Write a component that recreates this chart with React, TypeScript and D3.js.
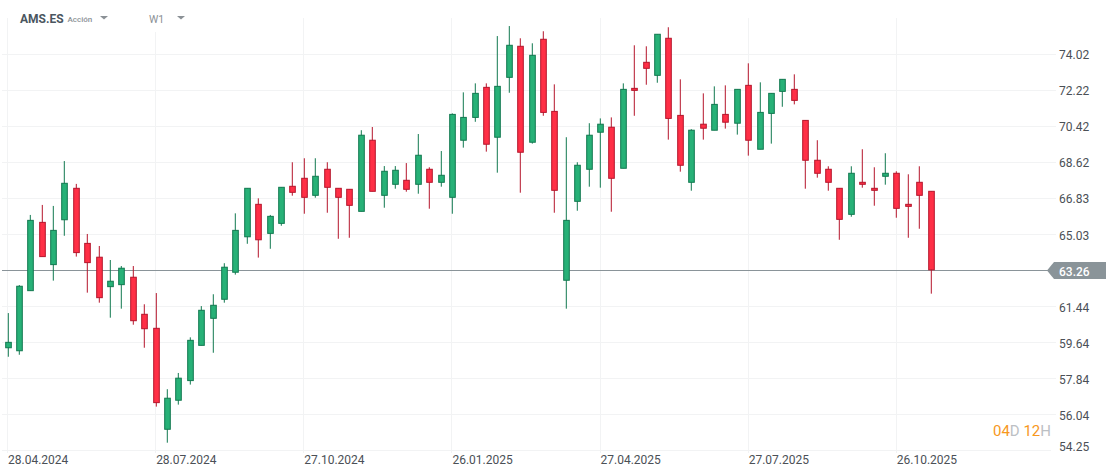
import React, { useEffect, useRef } from "react";
import * as d3 from "d3";

// weekly candles, first one is the week of 28.04.2024
const opens = [
  59.37, 59.22, 62.22, 65.63, 63.52, 65.76, 67.33, 64.58, 63.89, 62.42,
  62.52, 62.89, 61.04, 60.34, 55.3, 56.75, 57.73, 59.49, 60.84, 61.79,
  63.14, 64.91, 66.53, 65.08, 65.58, 67.43, 67.83, 66.98, 68.28, 67.33,
  67.28, 66.18, 69.73, 66.98, 67.53, 67.73, 67.53, 68.28, 67.63, 66.88,
  69.73, 70.87, 72.37, 69.88, 72.87, 74.42, 69.63, 74.77, 71.17, 62.74,
  66.68, 68.28, 70.13, 70.38, 68.33, 72.32, 73.62, 72.97, 74.82, 70.97,
  67.63, 70.53, 70.23, 71.02, 70.58, 72.47, 69.28, 71.07, 72.17, 72.27,
  70.72, 68.73, 68.28, 67.33, 66.03, 67.63, 67.33, 67.93, 68.08, 66.53,
  67.63, 67.18,
];
const highs = [
  61.1, 62.5, 66.0, 66.5, 66.45, 68.69, 67.55, 65.05, 64.45, 63.75,
  63.45, 63.45, 61.54, 62.1, 57.3, 58.11, 59.89, 61.45, 62.04, 63.59,
  66.08, 67.33, 66.83, 66.0, 67.38, 68.63, 68.83, 68.83, 68.63, 67.33,
  67.28, 70.23, 70.39, 68.44, 68.44, 68.59, 70.04, 68.38, 69.19, 71.07,
  72.12, 72.57, 72.57, 74.93, 75.43, 74.82, 74.57, 75.17, 72.52, 69.88,
  68.63, 70.58, 70.82, 70.87, 72.57, 74.47, 74.42, 75.02, 75.37, 72.77,
  70.28, 72.07, 72.42, 72.47, 72.27, 73.57, 72.62, 72.07, 72.77, 73.02,
  70.72, 69.73, 68.43, 67.33, 68.43, 69.28, 68.38, 69.08, 68.18, 68.03,
  68.43, 67.18,
];
const lows = [
  58.92, 59.02, 62.22, 63.92, 62.72, 64.96, 63.92, 62.12, 61.62, 60.87,
  61.32, 60.52, 59.37, 56.43, 54.63, 56.53, 57.53, 59.49, 59.12, 61.62,
  63.02, 64.56, 63.87, 64.31, 65.46, 66.96, 66.06, 66.86, 66.11, 64.81,
  64.86, 66.18, 67.18, 66.36, 67.31, 67.16, 67.06, 66.31, 67.41, 66.06,
  69.36, 70.65, 69.16, 68.11, 72.1, 67.11, 69.56, 70.95, 66.11, 61.32,
  66.21, 67.41, 67.36, 66.16, 68.33, 70.95, 72.5, 72.6, 69.76, 68.16,
  67.21, 69.76, 70.23, 70.31, 70.01, 68.96, 69.28, 69.56, 71.4, 71.52,
  67.31, 67.86, 67.21, 64.76, 65.91, 67.36, 66.46, 67.51, 65.86, 64.86,
  65.31, 62.07,
];
const closes = [
  59.64, 62.44, 65.73, 63.92, 65.23, 67.58, 64.12, 63.62, 61.87, 62.69,
  63.34, 60.72, 60.32, 56.63, 56.85, 57.85, 59.74, 61.24, 61.49, 63.39,
  65.23, 67.33, 64.76, 65.93, 67.38, 67.13, 66.88, 67.93, 67.38, 66.88,
  66.48, 69.98, 67.18, 68.18, 68.23, 67.28, 68.98, 67.63, 67.98, 71.02,
  70.87, 72.07, 69.53, 72.42, 74.47, 69.13, 73.97, 71.12, 67.23, 65.73,
  68.48, 69.98, 70.53, 67.83, 72.27, 72.22, 73.32, 75.02, 70.82, 68.48,
  70.23, 70.33, 71.52, 70.63, 72.27, 69.73, 71.12, 72.07, 72.77, 71.72,
  68.73, 68.08, 67.63, 65.78, 68.08, 67.53, 67.23, 68.08, 66.33, 66.43,
  66.98, 63.26,
];

const priceTicks = [74.02, 72.22, 70.42, 68.62, 66.83, 65.03, 61.44, 59.64, 57.84, 56.04, 54.25];
const hiddenPriceTick = 63.24; // grid line that sits under the last price line
const lastPrice = 63.26;

const dateTicks = [0, 13, 26, 39, 52, 65, 78];
const dateLabels = ["28.04.2024", "28.07.2024", "27.10.2024", "26.01.2025", "27.04.2025", "27.07.2025", "26.10.2025"];

const FONT = "Roboto, sans-serif";
const GREEN = { fill: "#27b177", stroke: "#11784f" };
const RED = { fill: "#ff2f46", stroke: "#b5152b" };

export default function App() {
  const svgRef = useRef<SVGSVGElement>(null);

  useEffect(() => {
    if (!svgRef.current) return;

    const width = 1119;
    const height = 476;

    const x = d3.scaleLinear().domain([0, opens.length - 1]).range([8, 931]);
    const y = d3.scaleLinear().domain([54.25, 74.02]).range([450.3, 54.3]);

    const svg = d3.select(svgRef.current);
    svg.selectAll("*").remove();
    svg.attr("width", width).attr("height", height);

    // Grid
    const grid = svg.append("g").attr("stroke", "#f2f3f4").attr("stroke-width", 1);
    grid
      .selectAll(".h")
      .data([...priceTicks, hiddenPriceTick])
      .join("line")
      .attr("x1", 2)
      .attr("x2", (d) => (d === 54.25 ? 1051 : 1056))
      .attr("y1", (d) => Math.round(y(d)) + 0.5)
      .attr("y2", (d) => Math.round(y(d)) + 0.5);
    grid
      .selectAll(".v")
      .data(dateTicks)
      .join("line")
      .attr("x1", (d) => Math.round(x(d)) - 0.5)
      .attr("x2", (d) => Math.round(x(d)) - 0.5)
      .attr("y1", 18)
      .attr("y2", 453);

    // Last price line
    svg
      .append("line")
      .attr("x1", 2)
      .attr("x2", 1048)
      .attr("y1", 270.5)
      .attr("y2", 270.5)
      .attr("stroke", "#8a9499")
      .attr("stroke-width", 1);

    // Candles
    svg
      .append("g")
      .selectAll("g")
      .data(opens.map((o, i) => ({ i, o, h: highs[i], l: lows[i], c: closes[i] })))
      .join("g")
      .each(function (d) {
        const color = d.c >= d.o ? GREEN : RED;
        const g = d3.select(this);
        const cx = Math.floor(x(d.i)) + 0.5;
        g.append("line")
          .attr("x1", cx - 0.2)
          .attr("x2", cx - 0.2)
          .attr("y1", y(d.h))
          .attr("y2", y(d.l))
          .attr("stroke", color.stroke)
          .attr("stroke-width", 1);
        const top = y(Math.max(d.o, d.c));
        const bottom = y(Math.min(d.o, d.c));
        g.append("rect")
          .attr("x", cx - 2.8)
          .attr("y", top)
          .attr("width", 5.6)
          .attr("height", Math.max(bottom - top, 1))
          .attr("fill", color.fill)
          .attr("stroke", color.stroke)
          .attr("stroke-width", 1);
      });

    // Price labels, the upper ones sit a bit closer to their grid line
    svg
      .append("g")
      .selectAll("text")
      .data(priceTicks)
      .join("text")
      .attr("x", 1059)
      .attr("y", (d) => Math.min(y(d) + (d > 65.03 ? 4.7 : 5.5), 451))
      .attr("font-family", FONT)
      .attr("font-size", 12)
      .attr("fill", "#4b5056")
      .text((d) => d.toFixed(2));

    // Last price tag
    const tagH = 8.5;
    const tagY = 270.5;
    svg
      .append("path")
      .attr(
        "d",
        d3.line()([
          [1047, tagY],
          [1054, tagY - tagH],
          [1106, tagY - tagH],
          [1106, tagY + tagH],
          [1054, tagY + tagH],
        ]) + "Z"
      )
      .attr("fill", "#8a9499");
    svg
      .append("text")
      .attr("x", 1059)
      .attr("y", 275.5)
      .attr("font-family", FONT)
      .attr("font-size", 12)
      .attr("font-weight", 500)
      .attr("fill", "#ffffff")
      .text(lastPrice.toFixed(2));

    // Date labels
    svg
      .append("g")
      .selectAll("text")
      .data(dateTicks)
      .join("text")
      .attr("x", (d) => x(d))
      .attr("y", 464)
      .attr("font-family", FONT)
      .attr("font-size", 12)
      .attr("fill", "#4b5056")
      .text((_, i) => dateLabels[i]);

    // Header
    svg.append("rect").attr("x", 145).attr("y", 10).attr("width", 45).attr("height", 22).attr("fill", "#fff");
    const header = svg.append("g").attr("font-family", FONT);
    header
      .append("text")
      .attr("x", 20)
      .attr("y", 23)
      .attr("font-size", 12)
      .attr("font-weight", 700)
      .attr("fill", "#4a5660")
      .text("AMS.ES");
    header
      .append("text")
      .attr("x", 67.5)
      .attr("y", 22)
      .attr("font-size", 8)
      .attr("font-weight", 500)
      .attr("fill", "#8b9196")
      .text("Acción");
    header
      .append("text")
      .attr("x", 149)
      .attr("y", 23)
      .attr("font-size", 10.5)
      .attr("fill", "#8b9196")
      .text("W1");
    header
      .selectAll("path")
      .data([100, 177])
      .join("path")
      .attr("d", (d) => `M${d},16 L${d + 8},16 L${d + 4},19.5 Z`)
      .attr("fill", "#8b9196");

    // Candle countdown
    const countdown = svg
      .append("text")
      .attr("x", 1051)
      .attr("y", 436)
      .attr("text-anchor", "end")
      .attr("font-family", FONT)
      .attr("font-size", 15);
    countdown.append("tspan").attr("fill", "#f7981d").text("04");
    countdown.append("tspan").attr("fill", "#bcc0c4").text("D ");
    countdown.append("tspan").attr("fill", "#f7981d").text("12");
    countdown.append("tspan").attr("fill", "#bcc0c4").text("H");
  }, []);

  return <svg ref={svgRef} style={{ position: "fixed", left: 0, top: 0, display: "block", background: "#fff" }}></svg>;
}
